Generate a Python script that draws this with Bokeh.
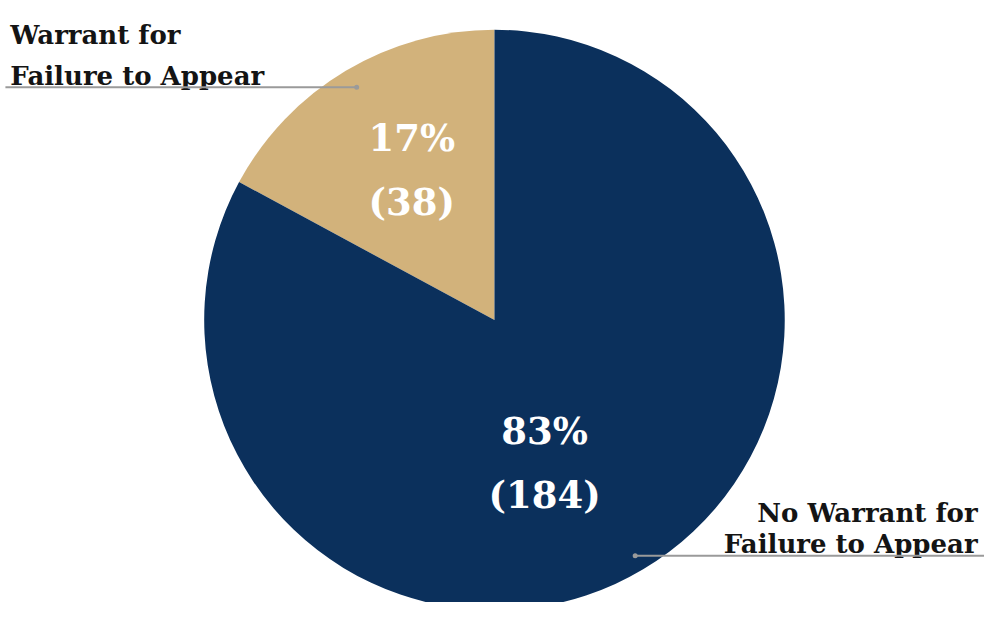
import numpy as np
from bokeh.plotting import figure
from bokeh.models import Range1d
from bokeh.core.properties import value
from bokeh.embed import file_html
from bokeh.resources import INLINE

# ---- data ----
categories = ["Warrant for\nFailure to Appear", "No Warrant for\nFailure to Appear"]
counts = [38, 184]
percents = ["17%", "83%"]
colors = ["#d2b27b", "#0b305c"]

# layout (reference pixel frame: x 0..1000, y 0..618 from bottom)
W, H = 984, 602
REF_W, REF_H = 1000, 618
p = figure(width=W, height=H, output_backend="svg", toolbar_location=None,
           x_range=Range1d(0, REF_W), y_range=Range1d(0, REF_H),
           min_border=0)
p.axis.visible = False
p.grid.visible = False
p.outline_line_color = None
p.background_fill_color = "white"


def Y(sy):
    return REF_H - sy


cx, cy, r = 502, Y(328), 295
total = sum(counts)
fr = np.array(counts) / total
ends = np.pi / 2 + 2 * np.pi * np.cumsum(fr)
starts = np.concatenate([[np.pi / 2], ends[:-1]])
p.wedge(x=[cx] * len(counts), y=[cy] * len(counts), radius=r,
        start_angle=list(starts), end_angle=list(ends),
        fill_color=colors, line_color=None)

font = value("DejaVu Serif")
# inner label anchor positions (centre of the two-line block)
lab_x = [418, 553]
lab_y = [Y(174), Y(475)]
for i in range(len(counts)):
    p.text(x=[lab_x[i]], y=[lab_y[i] + 33], text=[percents[i]], text_font=font,
           text_font_style="bold", text_font_size="37px", text_color="white",
           text_align="center", text_baseline="middle")
    p.text(x=[lab_x[i]], y=[lab_y[i] - 33], text=[f"({counts[i]})"], text_font=font,
           text_font_style="bold", text_font_size="37px", text_color="white",
           text_align="center", text_baseline="middle")

# outer labels with leader lines
lab_left = categories[0].split("\n")
lab_right = categories[1].split("\n")
p.text(x=[10, 10], y=[Y(35), Y(78)], text=lab_left, text_font=font,
       text_font_style="bold", text_font_size="26px", text_color="#141414",
       text_align="left", text_baseline="alphabetic")
p.line(x=[5, 362], y=[Y(89), Y(89)], line_color="#9a9a9a", line_width=2)
p.scatter(x=[362], y=[Y(89)], size=5, fill_color="#9a9a9a", line_color=None)

p.text(x=[993, 993], y=[Y(526), Y(558)], text=lab_right, text_font=font,
       text_font_style="bold", text_font_size="26px", text_color="#141414",
       text_align="right", text_baseline="alphabetic")
p.line(x=[645, 1000], y=[Y(570), Y(570)], line_color="#9a9a9a", line_width=2)
p.scatter(x=[645], y=[Y(570)], size=5, fill_color="#9a9a9a", line_color=None)

open("out.html", "w").write(file_html(p, INLINE))
